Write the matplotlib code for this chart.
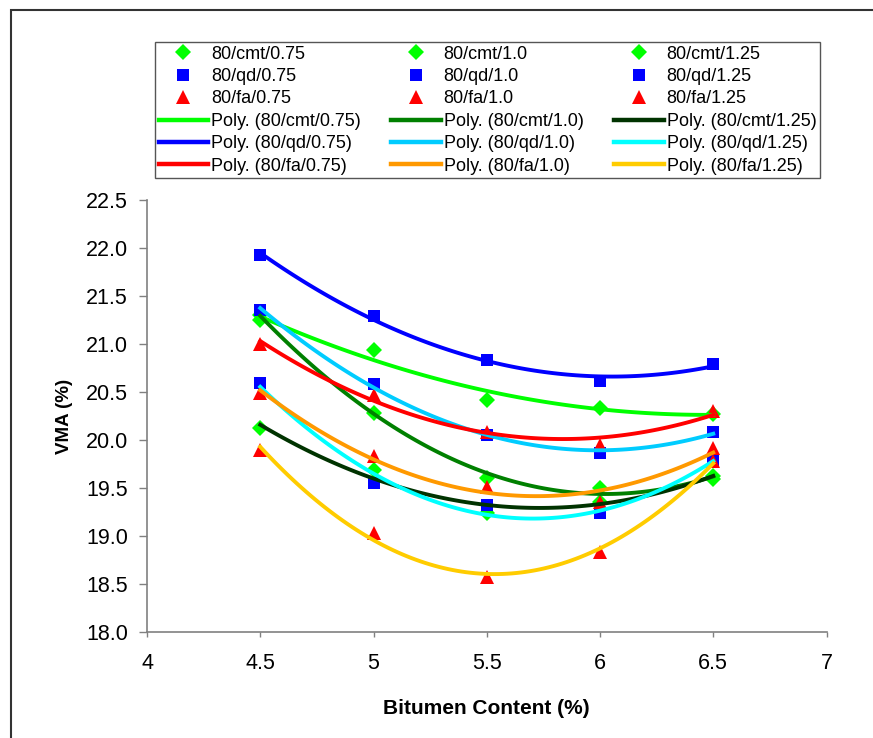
import numpy as np
import matplotlib
matplotlib.use('Agg')
import matplotlib.pyplot as plt
from matplotlib.patches import Rectangle

plt.rcParams['font.family'] = ['Liberation Sans', 'DejaVu Sans']

# bitumen content (%)
bitumen = [4.5, 5.0, 5.5, 6.0, 6.5]

# VMA (%) per mix
cmt_075 = [21.25, 20.94, 20.42, 20.34, 20.27]
cmt_100 = [21.30, 20.28, 19.61, 19.50, 19.60]
cmt_125 = [20.13, 19.69, 19.24, 19.36, 19.63]
qd_075 = [21.93, 21.29, 20.83, 20.62, 20.79]
qd_100 = [21.36, 20.58, 20.05, 19.87, 20.08]
qd_125 = [20.59, 19.55, 19.32, 19.24, 19.78]
fa_075 = [21.00, 20.47, 20.09, 19.95, 20.30]
fa_100 = [20.49, 19.84, 19.51, 19.36, 19.92]
fa_125 = [19.90, 19.03, 18.58, 18.84, 19.78]

series = [
    ('80/cmt/0.75', cmt_075, 'D', '#00FF00', '#00FF00'),
    ('80/cmt/1.0', cmt_100, 'D', '#00FF00', '#008000'),
    ('80/cmt/1.25', cmt_125, 'D', '#00FF00', '#003300'),
    ('80/qd/0.75', qd_075, 's', '#0000FF', '#0000FF'),
    ('80/qd/1.0', qd_100, 's', '#0000FF', '#00CCFF'),
    ('80/qd/1.25', qd_125, 's', '#0000FF', '#00FFFF'),
    ('80/fa/0.75', fa_075, '^', '#FF0000', '#FF0000'),
    ('80/fa/1.0', fa_100, '^', '#FF0000', '#FF9900'),
    ('80/fa/1.25', fa_125, '^', '#FF0000', '#FFCC00'),
]
msize = {'D': 8.5, 's': 8.5, '^': 9.5}

fig = plt.figure(figsize=(8.73, 7.38), dpi=100)
ax = fig.add_axes([147/873, 1 - 632.3/738, (826.5 - 147)/873, (632.3 - 200)/738])

marks = {}
trends = {}
for name, vals, mk, mc, lc in series:
    marks[name], = ax.plot(bitumen, vals, linestyle='none', marker=mk, color=mc,
                           markersize=msize[mk], markeredgewidth=0, label=name, zorder=2)

# 2nd order poly trendlines, like the spreadsheet
xs = np.linspace(bitumen[0], bitumen[-1], 100)
for name, vals, mk, mc, lc in series:
    coef = np.polyfit(bitumen, vals, 2)
    trends[name], = ax.plot(xs, np.polyval(coef, xs), color=lc, linewidth=2.8,
                            label='Poly. (' + name + ')', zorder=3)

ax.set_xlim(4, 7)
ax.set_ylim(18.0, 22.5)
ax.set_xticks(np.arange(4, 7.01, 0.5))
ax.set_xticklabels(['4', '4.5', '5', '5.5', '6', '6.5', '7'])
ax.set_yticks(np.arange(18.0, 22.51, 0.5))
ax.set_yticklabels(['%.1f' % v for v in np.arange(18.0, 22.51, 0.5)])
ax.tick_params(direction='out', width=1, color='#808080', labelsize=15.5)
ax.tick_params(axis='x', length=3.6, pad=11)
ax.tick_params(axis='y', length=5.8, pad=8)
for s in ['top', 'right']:
    ax.spines[s].set_visible(False)
for s in ['left', 'bottom']:
    ax.spines[s].set_color('#808080')
    ax.spines[s].set_linewidth(1.2)

ax.set_xlabel('Bitumen Content (%)', fontsize=15, fontweight='bold', labelpad=18)
ax.set_ylabel('VMA (%)', fontsize=13.5, fontweight='bold', labelpad=9)

# legend: row-major order so each column holds one content level
order = []
for lvl in ['0.75', '1.0', '1.25']:
    for kind in ['cmt', 'qd', 'fa']:
        order.append(marks['80/%s/%s' % (kind, lvl)])
    for kind in ['cmt', 'qd', 'fa']:
        order.append(trends['80/%s/%s' % (kind, lvl)])
leg = ax.legend(handles=order, ncol=3, mode='expand', loc='upper left',
                bbox_to_anchor=(155/873, 1 - 179/738, (820 - 155)/873, 137/738),
                bbox_transform=fig.transFigure, fontsize=13, numpoints=1,
                handlelength=2.75, handletextpad=0.15, labelspacing=0.3,
                borderpad=0.2, borderaxespad=0, fancybox=False, framealpha=1)
leg.get_frame().set_edgecolor('#555555')
leg.get_frame().set_linewidth(1.0)
for h in leg.legend_handles:
    if h.get_linestyle() != 'None':
        h.set_linewidth(3.2)

fig.add_artist(Rectangle((11/873, -0.1), 2, 1 - 10/738 + 0.1, transform=fig.transFigure,
                         fill=False, edgecolor='#333333', linewidth=1.5))

fig.savefig('out.png', dpi=100)
